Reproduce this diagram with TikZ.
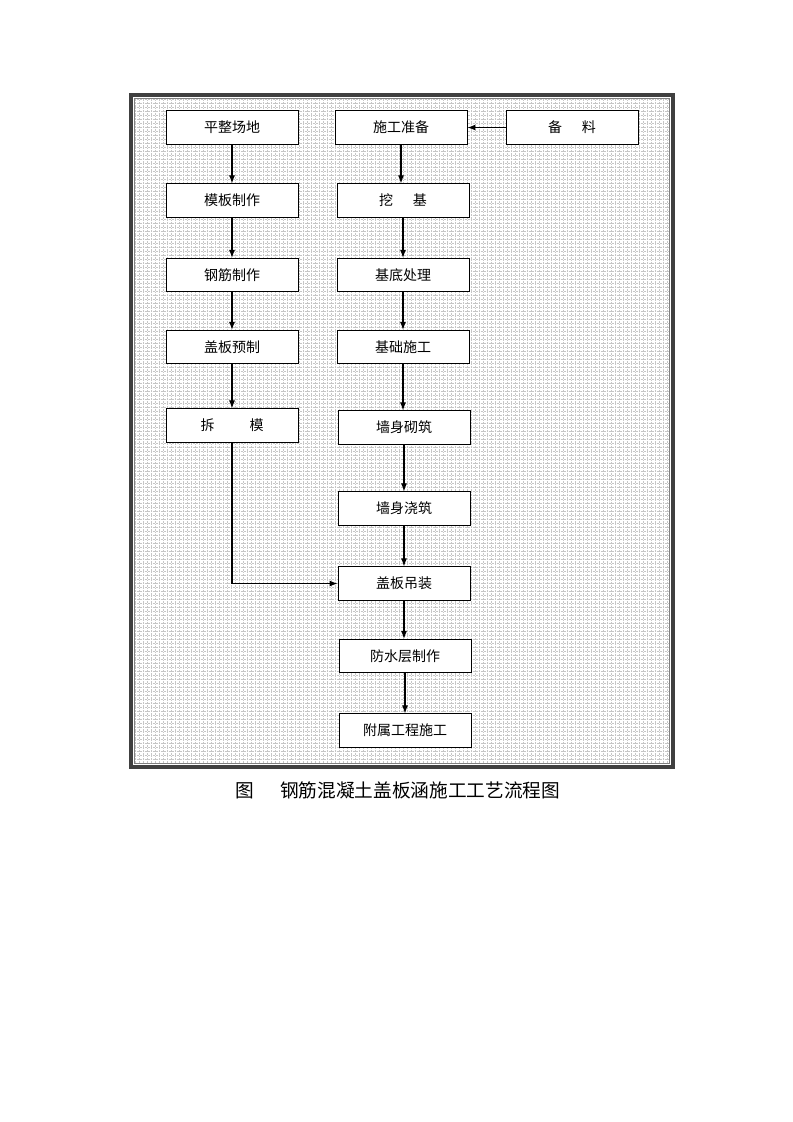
\documentclass[tikz,border=0pt]{standalone}
\usepackage{fontspec}
\setmainfont{Liberation Serif}
\newfontfamily\cjk{Noto Sans CJK SC}
\usetikzlibrary{arrows, arrows.meta, positioning}

\begin{document}
\begin{tikzpicture}[x=0.75pt, y=-0.75pt,
	blk/.style={draw, line width=0.7pt, fill=white, minimum width=99pt, minimum height=25pt, inner sep=0pt, font=\cjk\fontsize{10.5}{12}\selectfont},
	arr/.style={-{Latex[length=6pt, width=4.5pt]}, line width=0.8pt, black}]
		\useasboundingbox (0,0) rectangle (793,1122);
		% frame and dotted grid
		\draw[gray!45, line width=0.3pt, dash pattern=on 0.5pt off 0.7pt, step=3pt, shift={(135,99)}] (0,0) grid (534,664);
		\draw[black!75, line width=2.4pt] (131,95) rectangle (673,767);
		\draw[gray, line width=0.7pt] (134.5,98.5) rectangle (669.5,763.5);

		\draw (232,127.5) node[blk] (pz){平整场地}
		(232,200.5) node[blk] (mb){模板制作}
		(232,275) node[blk] (gj){钢筋制作}
		(232,347) node[blk] (gy){盖板预制}
		(232,425.5) node[blk] (cm){拆\hspace{2.5em}模}
		(401,127.5) node[blk] (sg){施工准备}
		(572,127.5) node[blk] (bl){备\hspace{1.4em}料}
		(403,200.5) node[blk] (wj){挖\hspace{1.4em}基}
		(403,275) node[blk] (jd){基底处理}
		(403,347) node[blk] (jc){基础施工}
		(404,427.5) node[blk] (qq){墙身砌筑}
		(404,508.5) node[blk] (qj){墙身浇筑}
		(404,583.5) node[blk] (gd){盖板吊装}
		(405,656) node[blk] (fs){防水层制作}
		(405,730.5) node[blk] (fg){附属工程施工};

		\draw[arr] (pz) -- (mb);
		\draw[arr] (mb) -- (gj);
		\draw[arr] (gj) -- (gy);
		\draw[arr] (gy) -- (cm);
		\draw[arr] (bl) -- (sg);
		\draw[arr] (sg) -- (sg |- wj.north);
		\draw[arr] (wj) -- (jd);
		\draw[arr] (jd) -- (jc);
		\draw[arr] (jc) -- (jc |- qq.north);
		\draw[arr] (qq) -- (qj);
		\draw[arr] (qj) -- (gd);
		\draw[arr] (gd) -- (gd |- fs.north);
		\draw[arr] (fs) -- (fg);
		\draw[arr] (cm.south) |- (gd.west);

		\node[font=\cjk\fontsize{14}{16}\selectfont, anchor=west, inner sep=0pt] (cap) at (235,790) {图\hspace{1.4em}钢筋混凝土盖板涵施工工艺流程图};
	\end{tikzpicture}
\end{document}
